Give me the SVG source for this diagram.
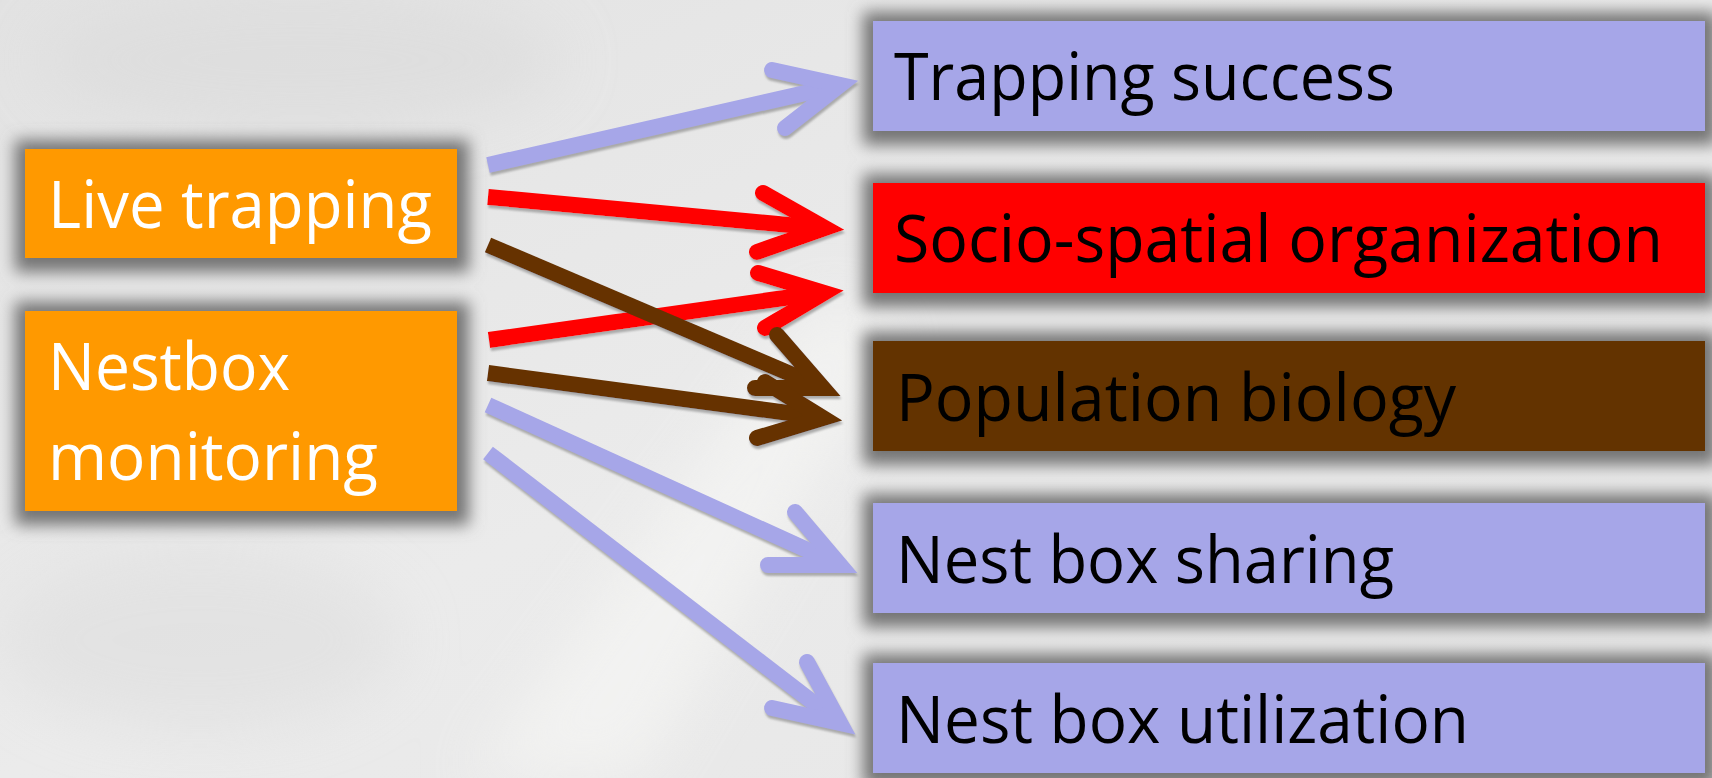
<svg xmlns="http://www.w3.org/2000/svg" width="1712" height="778" viewBox="0 0 1712 778">
  <defs>
    <style>
      .lbl { font-family: "Open Sans", "Noto Sans", sans-serif; font-size: 66px; }
      .white { fill: #ffffff; }
      .black { fill: #000000; }
      .shaft { fill: none; stroke-width: 16; stroke-linecap: butt; }
      .head { fill: none; stroke-width: 16; stroke-linecap: round; stroke-linejoin: miter; stroke-miterlimit: 10; }
      .blue { stroke: #a6a6e8; }
      .red { stroke: #ff0000; }
      .brown { stroke: #663300; }
      .halo { fill: #747474; }
    </style>
    <!-- blur for the grey halo drawn behind each box -->
    <filter id="haloBlur" filterUnits="userSpaceOnUse" x="0" y="0" width="1712" height="778">
      <feGaussianBlur stdDeviation="8"/>
    </filter>
    <!-- thin shadow under the arrows -->
    <filter id="arrowShadow" filterUnits="userSpaceOnUse" x="0" y="0" width="1712" height="778">
      <feDropShadow dx="1" dy="3" stdDeviation="0.8" flood-color="#9a9a9a" flood-opacity="0.8"/>
    </filter>
    <filter id="haze" filterUnits="userSpaceOnUse" x="0" y="0" width="1712" height="778">
      <feGaussianBlur stdDeviation="30"/>
    </filter>
    <linearGradient id="bgGrad" x1="0" y1="0" x2="1" y2="1">
      <stop offset="0" stop-color="#e2e2e2"/>
      <stop offset="0.5" stop-color="#ebebeb"/>
      <stop offset="1" stop-color="#e6e6e6"/>
    </linearGradient>
  </defs>

  <!-- faded photographic backdrop -->
  <rect x="0" y="0" width="1712" height="778" fill="url(#bgGrad)"/>
  <g filter="url(#haze)" opacity="0.7">
    <polygon points="470,778 640,778 900,330 820,300" fill="#f6f6f4"/>
    <ellipse cx="300" cy="60" rx="260" ry="70" fill="#dcdcdc"/>
    <ellipse cx="200" cy="640" rx="200" ry="90" fill="#e0e0e0"/>
  </g>

  <!-- grey halos behind all boxes -->
  <g id="halos" filter="url(#haloBlur)">
    <rect class="halo" x="15" y="140" width="454" height="132"/>
    <rect class="halo" x="15" y="302" width="454" height="223"/>
    <rect class="halo" x="863" y="12" width="854" height="133"/>
    <rect class="halo" x="863" y="174" width="854" height="133"/>
    <rect class="halo" x="863" y="332" width="854" height="133"/>
    <rect class="halo" x="863" y="494" width="854" height="133"/>
    <rect class="halo" x="863" y="654" width="854" height="133"/>
  </g>

  <!-- connectors -->
  <g id="connectors" filter="url(#arrowShadow)">
    <g id="e-live-trapsuccess">
      <path class="shaft blue" d="M488,165 L836,86"/>
      <path class="head blue" d="M772,70 L840,85 L785,128"/>
    </g>
    <g id="e-live-socio">
      <path class="shaft red" d="M488,197 L821,228"/>
      <path class="head red" d="M763,193 L825,228 L757,252"/>
    </g>
    <g id="e-nest-socio">
      <path class="shaft red" d="M489,340 L820,293"/>
      <path class="head red" d="M758,273 L824,293 L765,328"/>
    </g>
    <g id="e-live-population">
      <path class="shaft brown" d="M488,245 L819,386"/>
      <path class="head brown" d="M777,335 L823,388 L755,388"/>
    </g>
    <g id="e-nest-population">
      <path class="shaft brown" d="M488,373 L819,417"/>
      <path class="head brown" d="M765,382 L823,418 L757,438"/>
    </g>
    <g id="e-nest-sharing">
      <path class="shaft blue" d="M488,405 L836,563"/>
      <path class="head blue" d="M795,512 L840,565 L768,565"/>
    </g>
    <g id="e-nest-utilization">
      <path class="shaft blue" d="M488,453 L836,720"/>
      <path class="head blue" d="M807,662 L840,723 L772,708"/>
    </g>
  </g>

  <!-- source nodes -->
  <g id="n-live-trapping">
    <rect x="25" y="149" width="432" height="109" fill="#ff9900"/>
    <text class="lbl white" x="48" y="228" textLength="384" lengthAdjust="spacingAndGlyphs">Live trapping</text>
  </g>
  <g id="n-nestbox-monitoring">
    <rect x="25" y="311" width="432" height="200" fill="#ff9900"/>
    <text class="lbl white" x="48" y="390" textLength="242" lengthAdjust="spacingAndGlyphs">Nestbox</text>
    <text class="lbl white" x="48" y="480" textLength="330" lengthAdjust="spacingAndGlyphs">monitoring</text>
  </g>

  <!-- outcome nodes -->
  <g id="n-trapping-success">
    <rect x="873" y="21" width="832" height="110" fill="#a6a6e8"/>
    <text class="lbl black" x="894" y="100" textLength="501" lengthAdjust="spacingAndGlyphs">Trapping success</text>
  </g>
  <g id="n-socio-spatial">
    <rect x="873" y="183" width="832" height="110" fill="#ff0000"/>
    <text class="lbl black" x="894" y="262" textLength="769" lengthAdjust="spacingAndGlyphs">Socio-spatial organization</text>
  </g>
  <g id="n-population-biology">
    <rect x="873" y="341" width="832" height="110" fill="#633300"/>
    <text class="lbl black" x="896" y="421" textLength="560" lengthAdjust="spacingAndGlyphs">Population biology</text>
  </g>
  <g id="n-nest-box-sharing">
    <rect x="873" y="503" width="832" height="110" fill="#a6a6e8"/>
    <text class="lbl black" x="896" y="583" textLength="498" lengthAdjust="spacingAndGlyphs">Nest box sharing</text>
  </g>
  <g id="n-nest-box-utilization">
    <rect x="873" y="663" width="832" height="110" fill="#a6a6e8"/>
    <text class="lbl black" x="896" y="743" textLength="573" lengthAdjust="spacingAndGlyphs">Nest box utilization</text>
  </g>
</svg>
